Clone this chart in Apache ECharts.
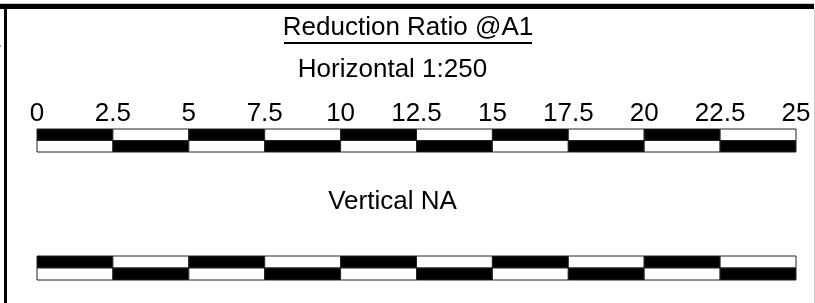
<!DOCTYPE html>
<html>
<head>
<meta charset="utf-8">
<script src="https://cdn.jsdelivr.net/npm/echarts@6/dist/echarts.min.js"></script>
<style>
html,body{margin:0;padding:0;background:#fff;}
#main{width:815px;height:303px;}
</style>
</head>
<body>
<div id="main"></div>
<script>
// scale bar ticks (metres)
var ticks = [0, 2.5, 5, 7.5, 10, 12.5, 15, 17.5, 20, 22.5, 25];
// 1 = filled, 0 = empty, one entry per segment
var topRow = [1, 0, 1, 0, 1, 0, 1, 0, 1, 0];
var bottomRow = [0, 1, 0, 1, 0, 1, 0, 1, 0, 1];
var rows = ['top', 'bottom'];

var titleText = 'Reduction Ratio @A1';
var horizontalText = 'Horizontal 1:250';
var verticalText = 'Vertical NA';

var fontFam = 'Arial, "Liberation Sans", sans-serif';

function buildSegments() {
    var data = [];
    for (var i = 0; i < ticks.length - 1; i++) {
        data.push([ticks[i], ticks[i + 1], 0, topRow[i]]);
        data.push([ticks[i], ticks[i + 1], 1, bottomRow[i]]);
    }
    return data;
}

function renderSegment(params, api) {
    var start = api.coord([api.value(0), api.value(2)]);
    var end = api.coord([api.value(1), api.value(2)]);
    var h = api.size([0, 1])[1];
    return {
        type: 'rect',
        shape: {x: start[0], y: start[1] - h / 2, width: end[0] - start[0], height: h},
        style: {fill: api.value(3) ? '#000' : '#fff', stroke: '#222', lineWidth: 1}
    };
}

var segs = buildSegments();

var myChart = echarts.init(document.getElementById('main'));
var option = {
    animation: false,
    backgroundColor: '#fff',
    grid: [
        {left: 37, right: 19, top: 129, height: 23},
        {left: 37, right: 19, top: 256, height: 24}
    ],
    xAxis: [
        {
            gridIndex: 0, type: 'value', min: 0, max: 25, interval: 2.5, position: 'top',
            axisLine: {show: false}, axisTick: {show: false}, splitLine: {show: false},
            axisLabel: {show: true, fontSize: 26, color: '#000', fontFamily: fontFam, margin: 2,
                showMinLabel: true, showMaxLabel: true}
        },
        {
            gridIndex: 1, type: 'value', min: 0, max: 25, interval: 2.5,
            axisLine: {show: false}, axisTick: {show: false}, splitLine: {show: false},
            axisLabel: {show: false}
        }
    ],
    yAxis: [
        {gridIndex: 0, type: 'category', data: rows, inverse: true, show: false},
        {gridIndex: 1, type: 'category', data: rows, inverse: true, show: false}
    ],
    series: [
        {type: 'custom', xAxisIndex: 0, yAxisIndex: 0, renderItem: renderSegment, data: segs},
        {type: 'custom', xAxisIndex: 1, yAxisIndex: 1, renderItem: renderSegment, data: segs}
    ],
    graphic: [
        // frame
        {type: 'rect', shape: {x: 0, y: 3, width: 814, height: 1}, style: {fill: '#ccc'}},
        {type: 'rect', shape: {x: 0, y: 4, width: 814, height: 5}, style: {fill: '#000'}},
        {type: 'rect', shape: {x: 4, y: 9, width: 3, height: 294}, style: {fill: '#000'}},
        {type: 'rect', shape: {x: 814, y: 10, width: 1, height: 293}, style: {fill: '#ccc'}},
        {type: 'rect', shape: {x: 0, y: 45, width: 1, height: 2}, style: {fill: '#999'}},
        // texts
        {type: 'text', x: 408, y: 28, style: {text: titleText, fontSize: 26, fontFamily: fontFam, fill: '#000',
            align: 'center', verticalAlign: 'middle'}},
        {type: 'rect', shape: {x: 284, y: 42, width: 248, height: 2}, style: {fill: '#000'}},
        {type: 'text', x: 392.5, y: 70, style: {text: horizontalText, fontSize: 26, fontFamily: fontFam, fill: '#000',
            align: 'center', verticalAlign: 'middle'}},
        {type: 'text', x: 392.5, y: 202, style: {text: verticalText, fontSize: 26, fontFamily: fontFam, fill: '#000',
            align: 'center', verticalAlign: 'middle'}}
    ]
};
myChart.setOption(option);
</script>
</body>
</html>
